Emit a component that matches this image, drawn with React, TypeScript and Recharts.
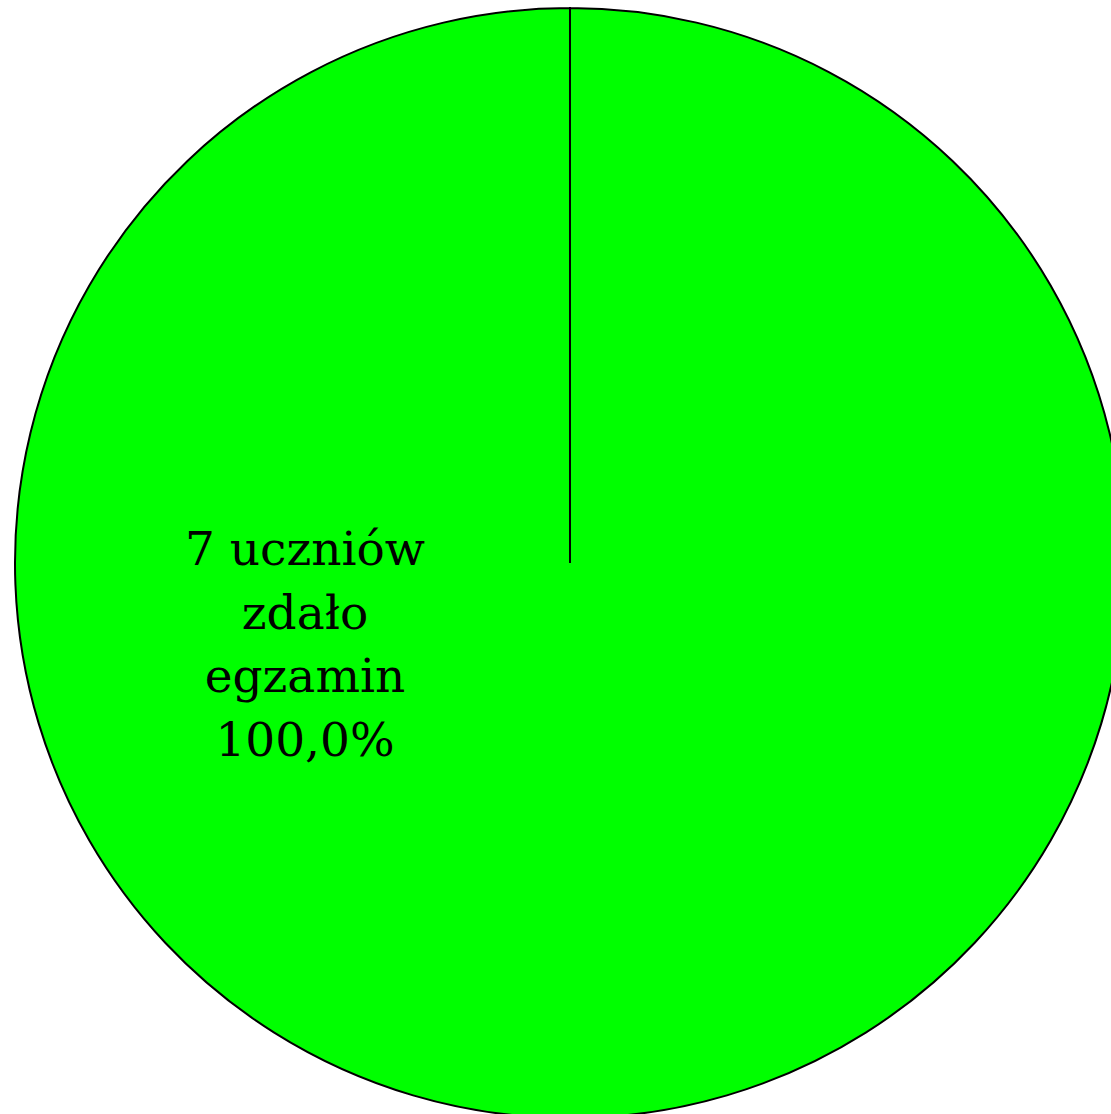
import { PieChart, Pie, Cell } from "recharts";

const categories = ["zdało egzamin"];
const studentCounts = [7];
const percentLabels = ["100,0%"];
const sliceColors = ["#00ff00"];

const data = categories.map((name, i) => ({
  name,
  value: studentCounts[i],
  percent: percentLabels[i],
}));

function renderLabel(props: any) {
  const { cx, cy, outerRadius, index } = props;
  const x = cx - outerRadius * 0.4775;
  const y = cy + 2;
  const item = data[index];
  const lines = [`${item.value} uczniów`, "zdało", "egzamin", item.percent];
  return (
    <text
      x={x}
      y={y}
      textAnchor="middle"
      fill="#000"
      fontFamily="'DejaVu Serif', serif"
      fontSize={47}
    >
      {lines.map((line, i) => (
        <tspan key={i} x={x} dy={i === 0 ? 0 : 63.5}>
          {line}
        </tspan>
      ))}
    </text>
  );
}

export default function App() {
  return (
    <div
      style={{
        position: "fixed",
        left: 0,
        top: 0,
        width: 1111,
        height: 1114,
        overflow: "hidden",
        background: "#fff",
      }}
    >
      <PieChart
        width={1111}
        height={1114}
        margin={{ top: 0, right: 0, bottom: 0, left: 0 }}
      >
        <Pie
          data={data}
          dataKey="value"
          nameKey="name"
          cx={570}
          cy={563}
          outerRadius={555}
          startAngle={90}
          endAngle={-270}
          stroke="#000"
          strokeWidth={2}
          label={renderLabel}
          labelLine={false}
          isAnimationActive={false}
        >
          {data.map((_, i) => (
            <Cell key={i} fill={sliceColors[i]} />
          ))}
        </Pie>
      </PieChart>
    </div>
  );
}
